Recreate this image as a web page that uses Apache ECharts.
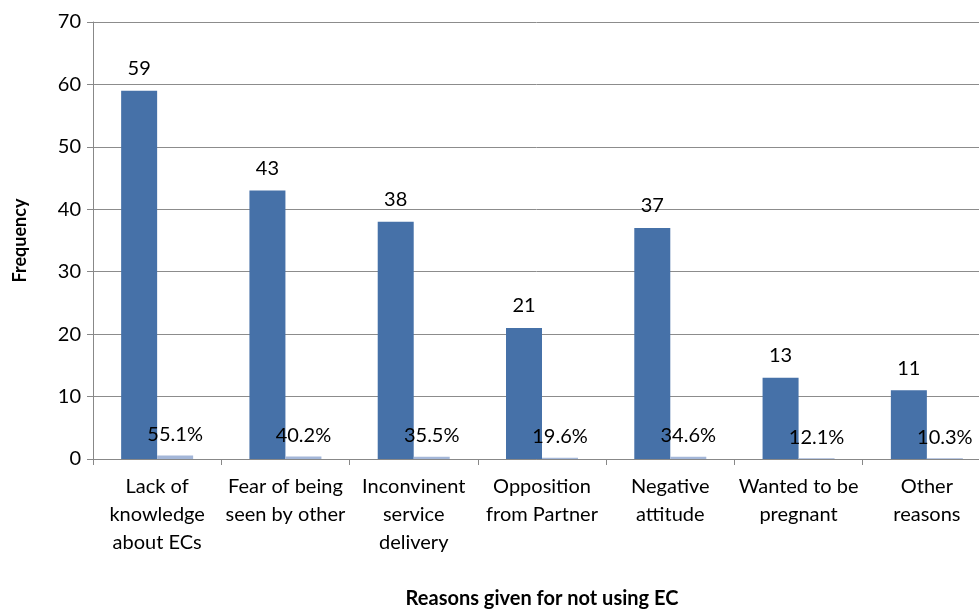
<!DOCTYPE html>
<html><head><meta charset="utf-8">
<script src="https://cdn.jsdelivr.net/npm/echarts@6/dist/echarts.min.js"></script>
<style>html,body{margin:0;padding:0;background:#fff}#c{width:979px;height:611px}</style>
</head><body><div id="c"></div>
<script>
const categories = ["Lack of\nknowledge\nabout ECs", "Fear of being\nseen by other", "Inconvinent\nservice\ndelivery", "Opposition\nfrom Partner", "Negative\nattitude", "Wanted to be\npregnant", "Other\nreasons"];
const frequency = [59, 43, 38, 21, 37, 13, 11];
const percent = [55.1, 40.2, 35.5, 19.6, 34.6, 12.1, 10.3];
const yTicks = [0, 10, 20, 30, 40, 50, 60, 70];

const font = "Lato, 'Open Sans', sans-serif";
const chart = echarts.init(document.getElementById('c'), null, {renderer: 'canvas'});
chart.setOption({
  animation: false,
  textStyle: {fontFamily: font},
  grid: {left: 93, right: -12, top: 22, bottom: 152, containLabel: false, outerBoundsMode: 'none'},
  xAxis: {
    type: 'category', data: categories,
    name: 'Reasons given for not using EC', nameLocation: 'middle', nameGap: 130,
    nameTextStyle: {fontFamily: font, fontWeight: 'bold', fontSize: 20, color: '#000'},
    axisLine: {lineStyle: {color: '#888', width: 1}},
    axisTick: {show: true, length: 6, lineStyle: {color: '#888'}, alignWithLabel: false},
    axisLabel: {fontFamily: font, fontSize: 20, color: '#000', lineHeight: 28, margin: 14, interval: 0}
  },
  yAxis: {
    type: 'value', min: yTicks[0], max: yTicks[yTicks.length - 1], interval: 10,
    name: 'Frequency', nameLocation: 'middle', nameGap: 64, nameRotate: 90,
    nameTextStyle: {fontFamily: font, fontWeight: 'bold', fontSize: 18, color: '#000'},
    axisLine: {show: true, lineStyle: {color: '#888'}},
    axisTick: {show: true, length: 6, lineStyle: {color: '#888'}},
    axisLabel: {fontFamily: font, fontSize: 20, color: '#000', margin: 12},
    splitLine: {lineStyle: {color: '#8c8c8c', width: 1}}
  },
  series: [
    {
      type: 'bar', data: frequency, barWidth: 36, barGap: '0%',
      itemStyle: {color: '#4671a8'},
      label: {show: true, position: 'top', distance: 12, fontFamily: font, fontSize: 20, color: '#000'}
    },
    {
      type: 'bar', data: percent.map(v => v / 100), barWidth: 36, barGap: '0%',
      itemStyle: {color: '#a3b6d8'},
      label: {show: true, position: 'top', distance: 11, fontFamily: font, fontSize: 20, color: '#000',
        formatter: p => percent[p.dataIndex].toFixed(1) + '%'}
    }
  ]
});
</script></body></html>
